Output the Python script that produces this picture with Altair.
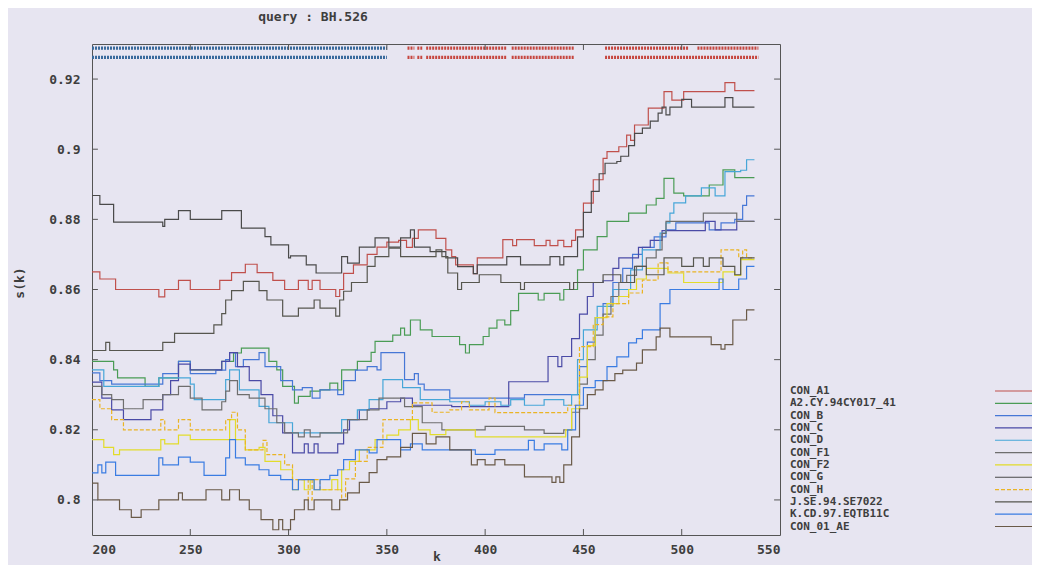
import altair as alt
import pandas as pd

# ---------------- data ----------------
names = ["CON_A1", "A2.CY.94CY017_41", "CON_B", "CON_C", "CON_D", "CON_F1",
         "CON_F2", "CON_G", "CON_H", "J.SE.94.SE7022", "K.CD.97.EQTB11C", "CON_01_AE"]
colors = ["#c0504c", "#4a9c55", "#4677d6", "#4a4aa6", "#46a6d8", "#6e6e6e",
          "#e2dc2a", "#4a4a4a", "#eab424", "#56564e", "#3a7ce2", "#6a5a48"]

a1_k = [200,204,212,234,237,244,250,265,271,278,284,292,298,305,310,312,316,324,326,328,
        333,340,345,350,356,360,363,366,372,375,380,383,385,394,396,409,414,416,423,425,
        431,433,437,440,444,446,450,455,460,462,468,472,474,476,483,491,495,501,522,527,537]
a1_s = [.8650,.8630,.8600,.8579,.8600,.8626,.8600,.8626,.8648,.8672,.8648,.8626,.8600,.8626,.8600,.8626,.8600,.8580,.8600,.8646,
        .8670,.8700,.8721,.8735,.8740,.8720,.8746,.8770,.8770,.8746,.8713,.8694,.8670,.8645,.8690,.8742,.8725,.8742,.8742,.8725,
        .8740,.8725,.8740,.8722,.8740,.8770,.8846,.8913,.8974,.8993,.9007,.9040,.9025,.9069,.9117,.9164,.9140,.9164,.9190,.9167,.9167]

a2_k = [200,211,213,227,234,244,250,266,272,276,286,290,294,297,303,305,311,316,321,325,
        327,335,342,344,353,357,359,362,367,373,387,390,392,399,402,406,410,413,417,427,
        430,438,440,447,450,457,462,473,482,487,491,496,501,514,521,527,537]
a2_s = [.8395,.8371,.8348,.8324,.8348,.8395,.8371,.8395,.8419,.8433,.8433,.8395,.8371,.8324,.8276,.8295,.8310,.8314,.8333,.8314,
        .8371,.8395,.8421,.8452,.8470,.8490,.8470,.8513,.8485,.8466,.8443,.8419,.8443,.8466,.8490,.8513,.8499,.8540,.8589,.8570,
        .8589,.8570,.8600,.8656,.8713,.8751,.8794,.8818,.8841,.8860,.8917,.8875,.8867,.8898,.8941,.8919,.8919]

b_k = [200,204,210,236,244,250,263,268,270,273,277,285,288,296,302,307,312,316,325,328,
       334,340,345,347,357,359,364,366,369,382,410,420,444,448,452,456,460,465,470,475,
       480,486,492,497,510,514,520,527,531,533,537]
b_s = [.8362,.8340,.8330,.8360,.8395,.8360,.8370,.8400,.8420,.8380,.8400,.8420,.8380,.8340,.8314,.8320,.8290,.8314,.8300,.8340,
       .8370,.8380,.8371,.8420,.8420,.8343,.8360,.8330,.8314,.8290,.8290,.8300,.8300,.8380,.8450,.8520,.8560,.8620,.8660,.8700,
       .8720,.8750,.8770,.8790,.8790,.8770,.8790,.8800,.8840,.8867,.8867]

c_k = [200,205,210,216,230,236,240,244,250,266,270,274,280,286,292,297,302,308,310,313,
       315,325,328,331,336,341,350,357,363,383,410,412,432,437,439,444,448,452,455,460,
       465,468,478,484,490,512,517,528,537]
c_s = [.8336,.8290,.8257,.8229,.8257,.8300,.8340,.8387,.8371,.8395,.8420,.8380,.8340,.8300,.8240,.8191,.8134,.8160,.8134,.8160,
       .8134,.8160,.8200,.8229,.8257,.8260,.8280,.8290,.8270,.8266,.8266,.8337,.8409,.8380,.8409,.8460,.8530,.8580,.8620,.8625,
       .8660,.8690,.8720,.8740,.8768,.8794,.8770,.8794,.8794]

d_k = [200,206,229,234,250,252,266,268,270,275,285,290,302,327,335,341,348,358,367,382,
       392,400,408,413,420,430,440,444,447,450,457,465,474,480,489,492,494,496,502,510,
       517,522,530,533,537]
d_s = [.8371,.8324,.8324,.8348,.8330,.8286,.8286,.8343,.8371,.8314,.8267,.8220,.8191,.8229,.8257,.8286,.8343,.8320,.8286,.8280,
       .8270,.8280,.8270,.8286,.8270,.8286,.8270,.8300,.8400,.8485,.8552,.8600,.8656,.8713,.8761,.8790,.8818,.8847,.8867,.8890,
       .8867,.8936,.8940,.8970,.8970]

f1_k = [200,205,210,216,226,236,244,250,256,266,268,270,274,280,288,294,298,305,308,311,
        316,330,340,346,359,364,368,378,400,420,430,440,444,448,452,456,460,464,468,472,
        477,482,487,490,492,511,528,537]
f1_s = [.8324,.8300,.8286,.8260,.8286,.8300,.8324,.8290,.8257,.8280,.8310,.8340,.8300,.8290,.8260,.8220,.8191,.8180,.8200,.8180,
        .8191,.8229,.8257,.8290,.8266,.8266,.8220,.8200,.8210,.8200,.8190,.8200,.8250,.8330,.8400,.8470,.8530,.8580,.8620,.8640,
        .8666,.8690,.8713,.8760,.8794,.8818,.8794,.8794]

f2_k = [200,206,211,214,235,237,244,250,270,273,278,285,288,296,302,305,308,311,313,322,
        325,327,331,336,344,350,356,362,366,372,380,395,441,444,448,452,456,462,468,473,
        477,482,493,501,521,527,530,537]
f2_s = [.8172,.8150,.8129,.8143,.8172,.8160,.8185,.8172,.8229,.8172,.8143,.8150,.8110,.8086,.8029,.8058,.8029,.8058,.8029,.8058,
        .8029,.8086,.8110,.8143,.8172,.8185,.8200,.8229,.8200,.8186,.8200,.8180,.8200,.8260,.8350,.8440,.8520,.8560,.8580,.8600,
        .8630,.8660,.8647,.8620,.8650,.8640,.8685,.8685]

g_k = [200,204,211,236,237,244,250,266,276,288,291,300,301,309,314,327,330,336,344,351,
       357,362,364,372,380,386,394,396,411,418,421,433,438,440,444,447,450,454,458,461,
       467,469,473,476,480,484,488,490,492,494,500,505,522,526,537]
g_s = [.8868,.8843,.8792,.8780,.8800,.8825,.8800,.8825,.8775,.8751,.8727,.8690,.8696,.8670,.8647,.8694,.8675,.8721,.8747,.8721,
       .8747,.8770,.8721,.8708,.8690,.8665,.8645,.8670,.8694,.8670,.8670,.8694,.8670,.8694,.8694,.8750,.8820,.8880,.8930,.8960,
       .8965,.8980,.9010,.9045,.9060,.9080,.9103,.9120,.9098,.9120,.9142,.9120,.9147,.9120,.9120]

h_k = [200,204,210,216,235,237,244,250,268,271,274,278,287,289,298,302,310,312,316,327,
       329,334,340,348,363,373,382,388,392,402,405,442,448,455,460,465,473,480,488,493,
       520,529,531,533,535,537]
h_s = [.8286,.8260,.8229,.8200,.8229,.8200,.8229,.8200,.8229,.8250,.8200,.8143,.8170,.8129,.8100,.8058,.8000,.8058,.8029,.8000,
       .8060,.8110,.8150,.8229,.8277,.8250,.8257,.8280,.8257,.8290,.8249,.8270,.8437,.8500,.8522,.8560,.8590,.8627,.8676,.8650,
       .8713,.8690,.8713,.8690,.8690,.8690]

j_k = [200,207,209,236,242,262,266,268,271,277,285,289,297,305,313,316,324,326,328,332,
       340,344,351,357,375,378,381,386,388,397,408,418,420,443,445,460,469,476,482,491,
       500,506,511,514,521,527,530,537]
j_s = [.8426,.8449,.8426,.8449,.8475,.8499,.8531,.8570,.8597,.8623,.8597,.8570,.8524,.8547,.8570,.8547,.8524,.8570,.8595,.8620,
       .8666,.8694,.8718,.8694,.8713,.8694,.8647,.8600,.8620,.8642,.8620,.8600,.8620,.8600,.8620,.8642,.8620,.8666,.8642,.8690,
       .8666,.8690,.8666,.8690,.8666,.8642,.8690,.8690]

k_k = [200,203,205,207,212,234,236,244,250,257,268,270,273,278,285,290,296,302,305,313,
       316,321,325,328,334,341,345,357,362,368,395,405,422,425,430,439,442,446,450,456,
       462,467,473,477,480,489,494,519,521,529,533,537]
k_s = [.8077,.8100,.8077,.8108,.8070,.8120,.8100,.8122,.8108,.8070,.8120,.8172,.8120,.8100,.8086,.8070,.8058,.8029,.8058,.8029,
       .8058,.8070,.8086,.8115,.8143,.8134,.8172,.8143,.8160,.8143,.8130,.8143,.8170,.8143,.8160,.8143,.8200,.8270,.8320,.8340,
       .8380,.8408,.8448,.8460,.8485,.8560,.8600,.8630,.8600,.8630,.8666,.8666]

ae_k = [200,203,214,220,225,234,244,246,258,266,270,275,280,286,292,295,297,301,303,308,
        310,313,322,326,330,336,341,345,350,357,363,370,375,382,393,396,400,405,410,420,
        434,436,438,440,444,448,452,456,460,466,470,477,480,487,489,494,515,520,522,526,533,537]
ae_s = [.8048,.8000,.7972,.7950,.7972,.8000,.8020,.8000,.8029,.8000,.8029,.8000,.7972,.7944,.7915,.7944,.7915,.7944,.7972,.8000,
        .7972,.8000,.7972,.8000,.8020,.8050,.8078,.8115,.8123,.8150,.8190,.8160,.8180,.8143,.8100,.8115,.8100,.8115,.8100,.8066,
        .8050,.8066,.8050,.8100,.8180,.8260,.8300,.8314,.8340,.8360,.8370,.8390,.8428,.8465,.8490,.8465,.8443,.8430,.8443,.8513,.8542,.8542]

series_k = [a1_k, a2_k, b_k, c_k, d_k, f1_k, f2_k, g_k, h_k, j_k, k_k, ae_k]
series_s = [a1_s, a2_s, b_s, c_s, d_s, f1_s, f2_s, g_s, h_s, j_s, k_s, ae_s]

# segment bars along the top (query region classification)
bar_level = [0.9288, 0.9262]
seg_row = [0, 1, 0, 0, 0, 0, 0, 0, 1, 1, 1, 1, 1]
seg_from = [200, 200, 360.5, 365.5, 370, 413.5, 461, 508, 360.5, 365.5, 370, 413.5, 461]
seg_to = [350, 350, 364, 368, 411, 445.5, 503.5, 539, 364, 368, 411, 445.5, 539]
seg_kind = ["b", "b", "r", "r", "r", "r", "r", "r", "r", "r", "r", "r", "r"]

x_ticks = [250, 300, 350, 400, 450, 500]
y_ticks = [0.80, 0.82, 0.84, 0.86, 0.88, 0.90, 0.92]
x_labels = [200, 250, 300, 350, 400, 450, 500, 550]

# ---------------- tables ----------------
rows = []
for n, ks, ss in zip(names, series_k, series_s):
    assert len(ks) == len(ss), n
    for k, s in zip(ks, ss):
        rows.append({"name": n, "k": k, "s": s})
df = pd.DataFrame(rows)

segs = pd.DataFrame({"k0": seg_from, "k1": seg_to,
                     "s": [bar_level[r] for r in seg_row], "kind": seg_kind})
legdf = pd.DataFrame({"name": names, "idx": list(range(len(names)))})
xt = pd.DataFrame({"k": x_ticks})
yt = pd.DataFrame({"s": y_ticks})

FONT = "DejaVu Sans Mono"
TXT = "#3e3e3e"
FS = 13
LFS = 11
XS = alt.Scale(domain=[200, 550], nice=False, zero=False)


def ys():
    return alt.Scale(domain=[0.79, 0.93], nice=False, zero=False)


dash_range = [[1, 0]] * 8 + [[4, 2]] + [[1, 0]] * 3

lines = alt.Chart(df).mark_line(interpolate="step-after", strokeWidth=1.2).encode(
    x=alt.X("k:Q", scale=XS,
            axis=alt.Axis(values=x_labels, ticks=False, tickSize=0, domain=False, grid=False,
                          title=None, labelPadding=8, format="d")),
    y=alt.Y("s:Q", scale=ys(),
            axis=alt.Axis(values=y_ticks, ticks=False, tickSize=0, domain=False, grid=False,
                          title=None, labelPadding=12, format="~g")),
    color=alt.Color("name:N", scale=alt.Scale(domain=names, range=colors), legend=None),
    strokeDash=alt.StrokeDash("name:N", scale=alt.Scale(domain=names, range=dash_range), legend=None),
)

bars = alt.Chart(segs).mark_rule(strokeWidth=3.2, strokeDash=[2, 1]).encode(
    x=alt.X("k0:Q", scale=XS),
    x2="k1:Q",
    y=alt.Y("s:Q", scale=ys(), axis=None),
    color=alt.Color("kind:N", scale=alt.Scale(domain=["b", "r"], range=["#3a6a9c", "#c6463f"]), legend=None),
)

tick_col = "#555555"
xt_bot = alt.Chart(xt).mark_rule(color=tick_col).encode(
    x=alt.X("k:Q", scale=XS), y=alt.datum(0.79, scale=ys(), axis=None), y2=alt.datum(0.7917))
xt_top = alt.Chart(xt).mark_rule(color=tick_col).encode(
    x=alt.X("k:Q", scale=XS), y=alt.datum(0.93, scale=ys(), axis=None), y2=alt.datum(0.9283))
yt_left = alt.Chart(yt).mark_rule(color=tick_col).encode(
    y=alt.Y("s:Q", scale=ys(), axis=None), x=alt.datum(200, scale=XS), x2=alt.datum(203))
yt_right = alt.Chart(yt).mark_rule(color=tick_col).encode(
    y=alt.Y("s:Q", scale=ys(), axis=None), x=alt.datum(550, scale=XS), x2=alt.datum(547))

leg_scale = alt.Scale(domain=[0, 11], range=[347, 482.5])
leg_text = alt.Chart(legdf).mark_text(align="left", baseline="middle", font=FONT,
                                       fontSize=LFS, fontWeight="bold", color=TXT).encode(
    x=alt.value(698),
    y=alt.Y("idx:Q", scale=leg_scale, axis=None),
    text="name:N",
)
leg_line = alt.Chart(legdf).mark_rule(strokeWidth=1.2).encode(
    x=alt.value(903), x2=alt.value(940),
    y=alt.Y("idx:Q", scale=leg_scale, axis=None),
    color=alt.Color("name:N", scale=alt.Scale(domain=names, range=colors), legend=None),
    strokeDash=alt.StrokeDash("name:N", scale=alt.Scale(domain=names, range=dash_range), legend=None),
)

title_df = pd.DataFrame({"t": ["query : BH.526"]})
title = alt.Chart(title_df).mark_text(font=FONT, fontSize=FS, fontWeight="bold", color=TXT,
                                      baseline="middle", align="center").encode(
    x=alt.value(221), y=alt.value(-27), text="t:N")
ytitle = alt.Chart(pd.DataFrame({"t": ["s(k)"]})).mark_text(
    font=FONT, fontSize=FS, fontWeight="bold", color=TXT, angle=270,
    baseline="middle", align="center").encode(x=alt.value(-72), y=alt.value(239), text="t:N")
xtitle = alt.Chart(pd.DataFrame({"t": ["k"]})).mark_text(
    font=FONT, fontSize=FS, fontWeight="bold", color=TXT,
    baseline="middle", align="center").encode(x=alt.value(345), y=alt.value(513), text="t:N")

chart = alt.layer(
    lines, bars, xt_bot, xt_top, yt_left, yt_right, leg_line, leg_text, title, ytitle, xtitle
).resolve_scale(
    y="independent", color="independent", strokeDash="independent"
).properties(
    width=688, height=491,
    padding={"left": 84, "top": 36, "right": 252, "bottom": 30},
    autosize=alt.AutoSizeParams(type="none"),
).configure(
    background="#e7e5f1",
).configure_view(
    stroke="#555555", strokeWidth=1,
).configure_axis(
    labelFont=FONT, labelFontSize=FS, labelFontWeight="bold", labelColor=TXT,
)

chart.save("out.html", embed_options={"renderer": "svg", "actions": False})
